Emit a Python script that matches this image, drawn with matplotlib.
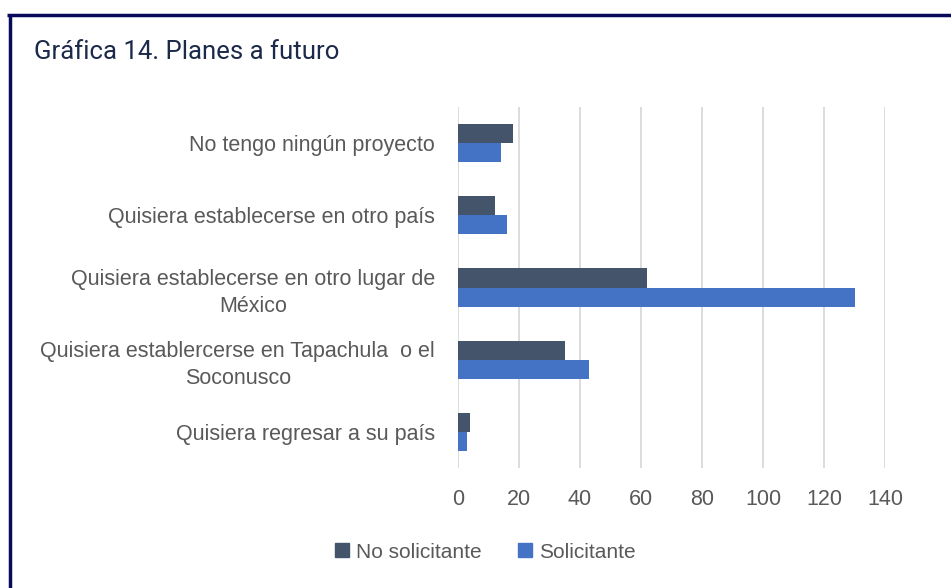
import numpy as np
import matplotlib.pyplot as plt
from matplotlib.lines import Line2D

# Data
categories = [
    "No tengo ningún proyecto",
    "Quisiera establecerse en otro país",
    "Quisiera establecerse en otro lugar de\nMéxico",
    "Quisiera establercerse en Tapachula  o el\nSoconusco",
    "Quisiera regresar a su país",
]
no_solicitante = [18, 12, 62, 35, 4]
solicitante = [14, 16, 130, 43, 3]
x_ticks = [0, 20, 40, 60, 80, 100, 120, 140]

DARK = "#44546A"
BLUE = "#4472C4"
TEXT = "#595959"

plt.rcParams["font.family"] = ["Liberation Sans", "DejaVu Sans"]

fig = plt.figure(figsize=(9.51, 5.88), dpi=100)
ax = fig.add_axes([0.4816, 0.204, 0.449, 0.614])

y = np.arange(len(categories))
h = 0.265
ax.barh(y - h / 2, no_solicitante, height=h, color=DARK, label="No solicitante")
ax.barh(y + h / 2, solicitante, height=h, color=BLUE, label="Solicitante")

ax.set_ylim(len(categories) - 0.5, -0.5)
ax.set_xlim(0, 140)
ax.set_xticks(x_ticks)
ax.set_yticks(y)
ax.set_yticklabels(categories, multialignment="center", linespacing=1.35)
ax.tick_params(axis="both", length=0, labelcolor=TEXT)
ax.tick_params(axis="x", pad=15, labelsize=15.5)
ax.tick_params(axis="y", pad=16.5, labelsize=15.5)
ax.xaxis.grid(True, color="#D9D9D9", linewidth=1.3)
ax.set_axisbelow(True)
for s in ax.spines.values():
    s.set_visible(False)

handles = [Line2D([], [], marker="s", linestyle="", markersize=10, color=DARK),
           Line2D([], [], marker="s", linestyle="", markersize=10, color=BLUE)]
fig.legend(handles, ["No solicitante", "Solicitante"], loc="center",
           bbox_to_anchor=(0.503, 0.061), ncol=2, frameon=False, fontsize=15,
           labelcolor=TEXT, handletextpad=-0.35, columnspacing=1.1)

# title and page frame
fig.text(0.036, 0.912, "Gráfica 14. Planes a futuro", fontsize=18.5,
         color="#1B2A4A", fontfamily="Roboto", va="center")
fig.add_artist(Line2D([0.0075, 1.0], [0.975, 0.975], color="#0A0A5C", linewidth=2.5,
                      transform=fig.transFigure, solid_capstyle="butt"))
fig.add_artist(Line2D([0.0105, 0.0105], [0.0, 0.977], color="#0A0A5C", linewidth=2.5,
                      transform=fig.transFigure, solid_capstyle="butt"))

fig.savefig("out.png", dpi=100)
